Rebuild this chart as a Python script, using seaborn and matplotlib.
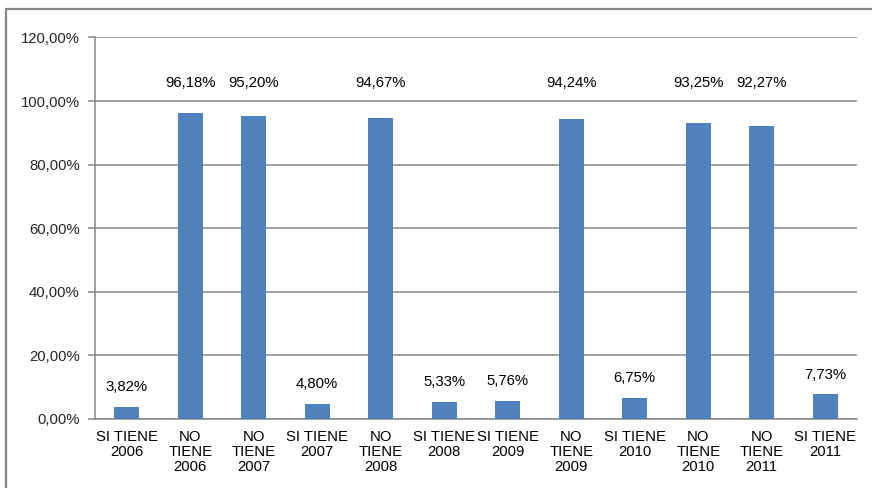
import matplotlib
matplotlib.use("Agg")
import matplotlib.pyplot as plt
from matplotlib.patches import Rectangle
import seaborn as sns
import pandas as pd

categories = [
    "SI TIENE\n2006", "NO\nTIENE\n2006", "NO\nTIENE\n2007", "SI TIENE\n2007",
    "NO\nTIENE\n2008", "SI TIENE\n2008", "SI TIENE\n2009", "NO\nTIENE\n2009",
    "SI TIENE\n2010", "NO\nTIENE\n2010", "NO\nTIENE\n2011", "SI TIENE\n2011",
]
values = [3.82, 96.18, 95.20, 4.80, 94.67, 5.33, 5.76, 94.24, 6.75, 93.25, 92.27, 7.73]
y_ticks = [0, 20, 40, 60, 80, 100, 120]

df = pd.DataFrame({"categoria": categories, "porcentaje": values})

sns.set_theme(style="white")
plt.rcParams["font.family"] = ["Liberation Sans", "DejaVu Sans"]

fig = plt.figure(figsize=(8.72, 4.88), dpi=100)
ax = fig.add_axes([0.1089, 0.1414, 0.8739, 0.7818])

grid_color = "#868686"
fs = 10.7
sns.barplot(data=df, x="categoria", y="porcentaje", color="#4F81BD",
            width=0.4, saturation=1, edgecolor="none", ax=ax, zorder=3)

ax.set_ylim(0, 120)
ax.set_xlim(-0.5, len(categories) - 0.5)
ax.set_yticks(y_ticks)
ax.set_yticklabels([f"{t:.2f}".replace(".", ",") + "%" for t in y_ticks], fontsize=fs)
ax.yaxis.grid(True, color=grid_color, linewidth=1.1, zorder=0)
ax.set_axisbelow(True)
ax.set_xlabel("")
ax.set_ylabel("")

ax.tick_params(axis="x", which="major", length=0, labelsize=fs, pad=8, colors="black")
ax.set_xticks([i - 0.5 for i in range(len(categories) + 1)], minor=True)
ax.tick_params(axis="x", which="minor", length=5, width=1.1, color=grid_color, direction="out")
ax.tick_params(axis="y", length=5, width=1.1, color=grid_color, direction="out",
               labelsize=fs, pad=6, left=True)
for lbl in ax.get_xticklabels():
    lbl.set_linespacing(1.1)

for side in ["top", "right"]:
    ax.spines[side].set_visible(False)
for side in ["left", "bottom"]:
    ax.spines[side].set_color(grid_color)
    ax.spines[side].set_linewidth(1.1)

# value labels over each bar
for i, v in enumerate(values):
    y = v + 6.2 if v < 50 else 105.8
    ax.text(i, y, f"{v:.2f}".replace(".", ",") + "%", ha="center", va="center",
            fontsize=fs, color="black")

# outer chart frame
fig.patches.append(Rectangle((6 / 872, -0.1), 1.2, 1 - 9 / 488 + 0.1,
                             transform=fig.transFigure, fill=False,
                             edgecolor=grid_color, linewidth=1.6))

fig.savefig("out.png", dpi=100)
